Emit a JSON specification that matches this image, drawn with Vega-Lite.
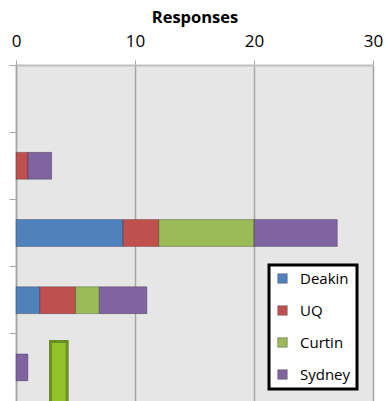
{
  "$schema": "https://vega.github.io/schema/vega-lite/v6.json",
  "autosize": {"type": "none"},
  "width": 357,
  "height": 336,
  "padding": {"left": 16, "top": 65, "right": 12, "bottom": 0},
  "background": "white",
  "config": {
    "font": "Open Sans",
    "view": {"fill": "#e6e6e6", "stroke": null}
  },
  "layer": [
    {
      "data": {"values": [
        {"cat": "B", "school": "UQ", "responses": 1, "k": 2},
        {"cat": "B", "school": "Sydney", "responses": 2, "k": 4},
        {"cat": "C", "school": "Deakin", "responses": 9, "k": 1},
        {"cat": "C", "school": "UQ", "responses": 3, "k": 2},
        {"cat": "C", "school": "Curtin", "responses": 8, "k": 3},
        {"cat": "C", "school": "Sydney", "responses": 7, "k": 4},
        {"cat": "D", "school": "Deakin", "responses": 2, "k": 1},
        {"cat": "D", "school": "UQ", "responses": 3, "k": 2},
        {"cat": "D", "school": "Curtin", "responses": 2, "k": 3},
        {"cat": "D", "school": "Sydney", "responses": 4, "k": 4},
        {"cat": "E", "school": "Sydney", "responses": 1, "k": 4}
      ]},
      "mark": {"type": "bar", "height": {"band": 0.4}, "stroke": "#000000", "strokeOpacity": 0.25, "strokeWidth": 1},
      "encoding": {
        "y": {
          "field": "cat", "type": "nominal",
          "scale": {"domain": ["A", "B", "C", "D", "E"], "paddingInner": 0, "paddingOuter": 0},
          "axis": {"labels": false, "title": null, "ticks": true, "tickSize": 7, "tickColor": "#a6a6a6", "domainColor": "#a6a6a6", "domainWidth": 1.5, "bandPosition": 0, "grid": false}
        },
        "x": {
          "field": "responses", "type": "quantitative", "stack": "zero",
          "scale": {"domain": [0, 30], "nice": false},
          "axis": {"orient": "top", "title": "Responses", "titleFontSize": 16.5, "titleFontWeight": "bold", "titleColor": "#000000", "titlePadding": 7,
                   "values": [0, 10, 20, 30], "labelFontSize": 17, "labelColor": "#000000", "labelPadding": 10, "labelFlush": false,
                   "tickSize": 5, "tickColor": "#a6a6a6", "domainColor": "#bfbfbf", "domainWidth": 2,
                   "grid": true, "gridColor": "#a6a6a6", "gridWidth": 1.5}
        },
        "color": {
          "field": "school", "type": "nominal",
          "scale": {"domain": ["Deakin", "UQ", "Curtin", "Sydney"], "range": ["#4f81bd", "#c0504d", "#9bbb59", "#8064a2"]},
          "legend": {
            "orient": "none", "legendX": 253, "legendY": 200, "title": null,
            "symbolType": "square", "symbolSize": 90, "symbolStrokeWidth": 0.5, "symbolStrokeColor": "#555555",
            "labelFontSize": 15, "labelColor": "#000000", "labelOffset": 10,
            "rowPadding": 16, "padding": 6,
            "strokeColor": "#000000", "fillColor": "#ffffff", "cornerRadius": 0,
            "encode": {"legend": {"update": {"strokeWidth": {"value": 3}}}}
          }
        },
        "order": {"field": "k", "type": "quantitative"}
      }
    },
    {
      "data": {"values": [{"cat": "E", "start": 2.9, "end": 4.3}]},
      "mark": {"type": "bar", "height": 62, "yOffset": 5, "fill": "#92c12b", "stroke": "#6b8e23", "strokeWidth": 3},
      "encoding": {
        "y": {"field": "cat", "type": "nominal"},
        "x": {"field": "start", "type": "quantitative"},
        "x2": {"field": "end"}
      }
    }
  ]
}
